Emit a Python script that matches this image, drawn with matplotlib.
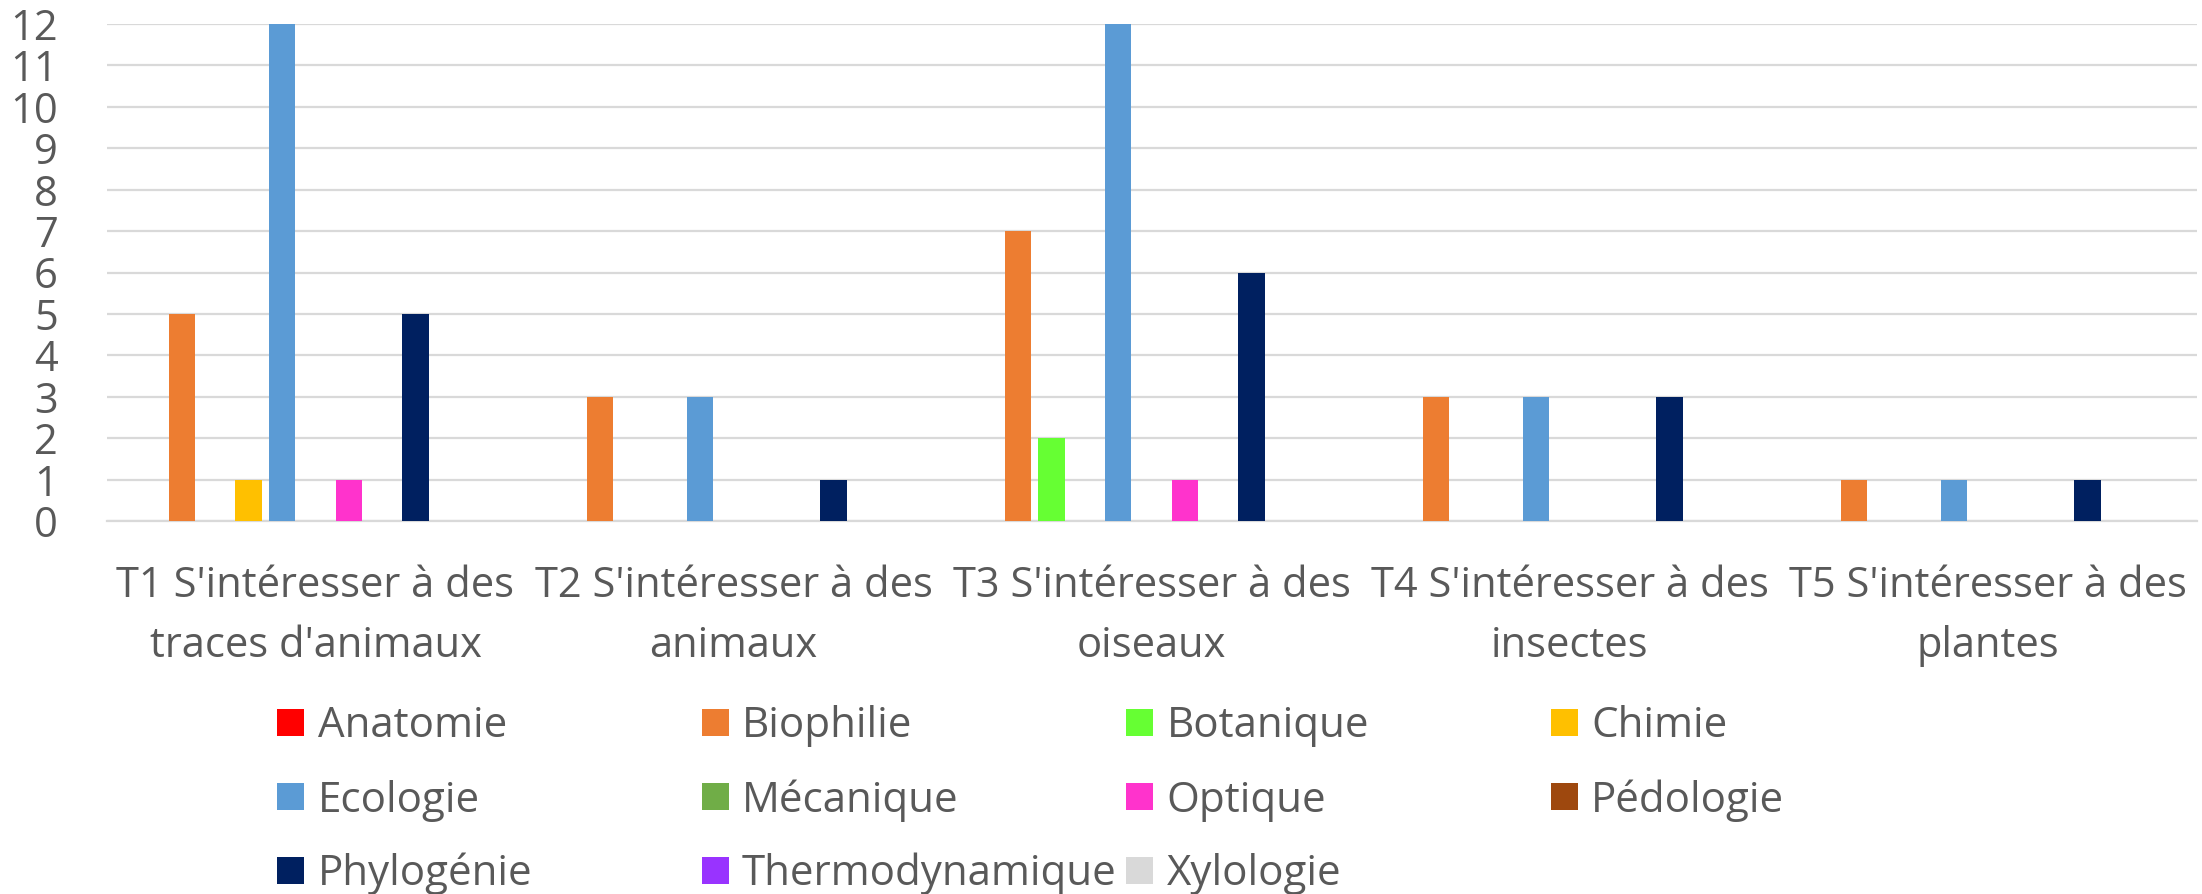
import matplotlib
matplotlib.use('Agg')
import matplotlib.pyplot as plt
import numpy as np
from matplotlib.patches import Rectangle

# ========================
# Data
# ========================
categories = [
    "T1 S'intéresser à des\ntraces d'animaux",
    "T2 S'intéresser à des\nanimaux",
    "T3 S'intéresser à des\noiseaux",
    "T4 S'intéresser à des\ninsectes",
    "T5 S'intéresser à des\nplantes",
]
series_names = ["Anatomie", "Biophilie", "Botanique", "Chimie", "Ecologie", "Mécanique",
                "Optique", "Pédologie", "Phylogénie", "Thermodynamique", "Xylologie"]

anatomie = [0, 0, 0, 0, 0]
biophilie = [5, 3, 7, 3, 1]
botanique = [0, 0, 2, 0, 0]
chimie = [1, 0, 0, 0, 0]
ecologie = [12, 3, 12, 3, 1]
mecanique = [0, 0, 0, 0, 0]
optique = [1, 0, 1, 0, 0]
pedologie = [0, 0, 0, 0, 0]
phylogenie = [5, 1, 6, 3, 1]
thermodynamique = [0, 0, 0, 0, 0]
xylologie = [0, 0, 0, 0, 0]

series_values = [anatomie, biophilie, botanique, chimie, ecologie, mecanique,
                 optique, pedologie, phylogenie, thermodynamique, xylologie]
y_ticks = list(range(0, 13))

colors = ['#FF0000', '#ED7D31', '#66FF33', '#FFC000', '#5B9BD5', '#70AD47',
          '#FF33CC', '#9E480E', '#002060', '#9933FF', '#D9D9D9']

TEXT = '#595959'
GRID = '#D9D9D9'
FS = 30
plt.rcParams['font.family'] = ['Open Sans', 'DejaVu Sans']

# ========================
# Figure
# ========================
W, H = 2202, 894
fig = plt.figure(figsize=(W / 100, H / 100), dpi=100)
ax = fig.add_axes([106.5 / W, 1 - 521 / H, 2090 / W, (521 - 24) / H])

x = np.arange(len(categories))
slot = 0.0799
bar_w = 0.0634
n = len(series_names)
for j, (name, vals) in enumerate(zip(series_names, series_values)):
    ax.bar(x + (j - (n - 1) / 2) * slot, vals, width=bar_w, color=colors[j],
           label=name, zorder=3, linewidth=0)

ax.set_xlim(-0.5, len(categories) - 0.5)
ax.set_ylim(0, 12)
ax.set_yticks(y_ticks)
ax.yaxis.grid(True, color=GRID, linewidth=1.6, zorder=0)
ax.set_axisbelow(True)
for s in ['top', 'right', 'left']:
    ax.spines[s].set_visible(False)
ax.spines['bottom'].set_color(GRID)
ax.spines['bottom'].set_linewidth(1.6)
ax.tick_params(axis='y', length=0, pad=35, labelsize=FS, labelcolor=TEXT)
ax.tick_params(axis='x', length=0, pad=31.5, labelsize=FS, labelcolor=TEXT)
ax.set_xticks(x)
ax.set_xticklabels(categories, linespacing=1.57)

# legend, laid out as a uniform grid like the source
col_x = [277, 701.5, 1126, 1550.5]
row_y = [722.3, 796.7, 870]
box = 27
for k, name in enumerate(series_names):
    r, c = divmod(k, 4)
    px, py = col_x[c], row_y[r]
    fig.add_artist(Rectangle((px / W, 1 - (py + box / 2) / H), box / W, box / H,
                             transform=fig.transFigure, color=colors[k], linewidth=0))
    fig.text((px + 40.5) / W, 1 - (py + 15) / H, name, fontsize=30.3, color=TEXT,
             va='baseline', ha='left')

plt.savefig('out.png', dpi=100)
plt.close()
